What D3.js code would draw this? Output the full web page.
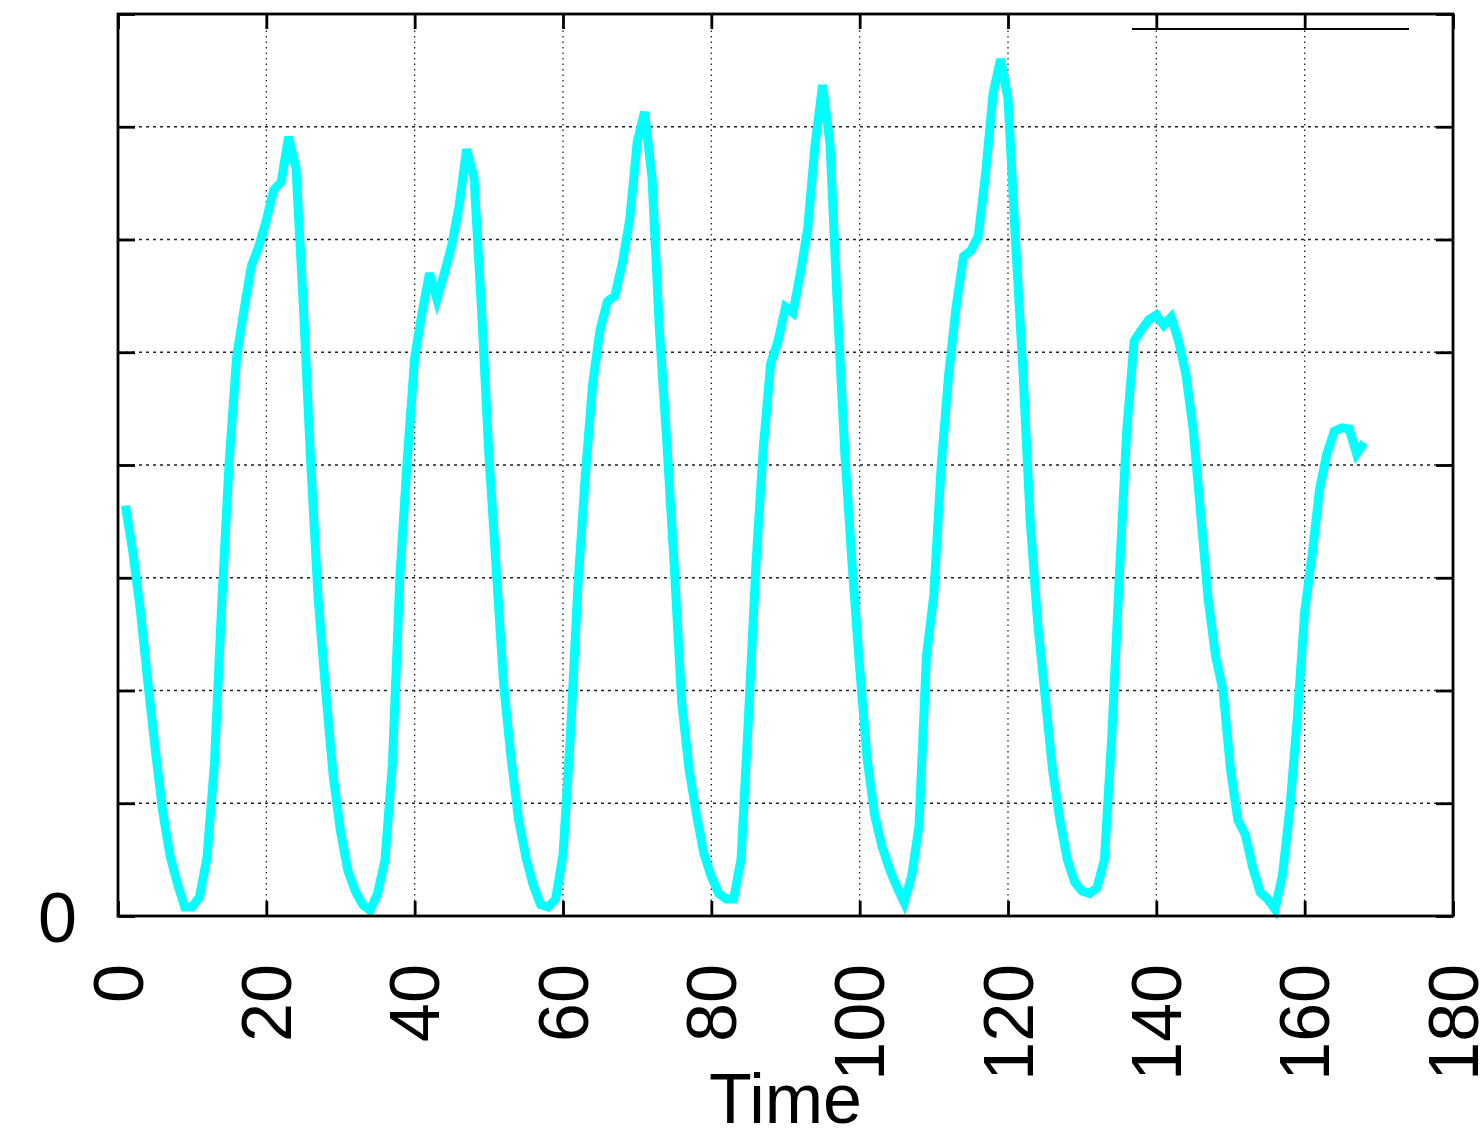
<!DOCTYPE html>
<html>
<head>
<meta charset="utf-8">
<script src="https://cdn.jsdelivr.net/npm/d3@7"></script>
<style>
  html, body { margin: 0; padding: 0; background: #fff; }
  svg { display: block; }
  text { font-family: "Liberation Sans", Arial, Helvetica, sans-serif; fill: #000; }
</style>
</head>
<body>
<svg id="chart" width="1481" height="1134"></svg>
<script>
// ---- data (hourly samples, t = 1 .. 168) ----
const seriesValues = [
  3.64, 3.23, 2.72, 2.09, 1.49, 0.94, 0.54, 0.29, 0.08, 0.08, 0.17, 0.52,
  1.35, 2.79, 4.04, 4.96, 5.38, 5.77, 5.94, 6.17, 6.44, 6.51, 6.91, 6.63,
  5.40, 4.00, 2.80, 2.00, 1.25, 0.75, 0.40, 0.22, 0.10, 0.05, 0.20, 0.50,
  1.35, 3.00, 4.05, 4.95, 5.35, 5.70, 5.47, 5.70, 5.95, 6.30, 6.80, 6.55,
  5.40, 4.10, 3.07, 2.05, 1.40, 0.86, 0.52, 0.27, 0.10, 0.08, 0.15, 0.54,
  1.60, 2.92, 3.90, 4.72, 5.20, 5.45, 5.50, 5.79, 6.18, 6.86, 7.13, 6.55,
  5.20, 4.20, 3.10, 1.90, 1.30, 0.90, 0.55, 0.35, 0.20, 0.15, 0.15, 0.50,
  1.75, 3.10, 4.15, 4.90, 5.10, 5.40, 5.35, 5.70, 6.10, 6.85, 7.37, 6.85,
  5.40, 4.10, 3.10, 2.20, 1.40, 0.90, 0.62, 0.42, 0.26, 0.12, 0.35, 0.80,
  2.30, 2.85, 4.00, 4.80, 5.40, 5.85, 5.90, 6.03, 6.60, 7.30, 7.60, 7.25,
  6.00, 4.85, 3.50, 2.60, 1.95, 1.30, 0.85, 0.50, 0.30, 0.22, 0.20, 0.25,
  0.50, 1.60, 3.00, 4.30, 5.10, 5.20, 5.29, 5.33, 5.24, 5.31, 5.10, 4.80,
  4.30, 3.55, 2.80, 2.30, 2.00, 1.30, 0.85, 0.72, 0.43, 0.21, 0.15, 0.06,
  0.36, 0.95, 1.75, 2.70, 3.20, 3.78, 4.10, 4.30, 4.33, 4.32, 4.10, 4.20
];
const xTicks = [0, 20, 40, 60, 80, 100, 120, 140, 160, 180];
const xTickLabels = ["0", "20", "40", "60", "80", "100", "120", "140", "160", "180"];
const yTicks = [0, 1, 2, 3, 4, 5, 6, 7, 8];
const yTickLabels = ["0", "", "", "", "", "", "", "", ""];
const xTitle = "Time";
const xDomain = [0, 180];
const yDomain = [0, 8];

// ---- layout ----
const plot = { left: 118, right: 1453, top: 14, bottom: 916 };
const svg = d3.select("#chart");

const x = d3.scaleLinear().domain(xDomain).range([plot.left, plot.right]);
const y = d3.scaleLinear().domain(yDomain).range([plot.bottom, plot.top]);

const data = seriesValues.map((v, i) => ({ t: i + 1, v }));

// ---- grid ----
const grid = svg.append("g").attr("class", "grid");
grid.selectAll("line.vx")
  .data(xTicks.filter(d => d > xDomain[0] && d < xDomain[1]))
  .join("line")
  .attr("x1", d => x(d)).attr("x2", d => x(d))
  .attr("y1", plot.top).attr("y2", plot.bottom)
  .attr("stroke", "#222").attr("stroke-width", 1.3)
  .attr("stroke-dasharray", "1.5,4");
grid.selectAll("line.hy")
  .data(yTicks.filter(d => d > yDomain[0] && d < yDomain[1]))
  .join("line")
  .attr("x1", plot.left).attr("x2", plot.right)
  .attr("y1", d => y(d)).attr("y2", d => y(d))
  .attr("stroke", "#222").attr("stroke-width", 1.3)
  .attr("stroke-dasharray", "3,4");

// ---- axes ----
const fmtX = d => xTickLabels[xTicks.indexOf(d)];
const fmtY = d => yTickLabels[yTicks.indexOf(d)];

const gB = svg.append("g").attr("transform", `translate(0,${plot.bottom})`)
  .call(d3.axisBottom(x).tickValues(xTicks).tickFormat(fmtX).tickSize(-15).tickSizeOuter(0));
gB.selectAll(".tick text")
  .attr("x", 0).attr("y", 0).attr("dy", null)
  .attr("text-anchor", "end")
  .attr("transform", "translate(24,48) rotate(-90)")
  .style("font-size", "70px");

const gT = svg.append("g").attr("transform", `translate(0,${plot.top})`)
  .call(d3.axisTop(x).tickValues(xTicks).tickFormat("").tickSize(-15).tickSizeOuter(0));

const gL = svg.append("g").attr("transform", `translate(${plot.left},0)`)
  .call(d3.axisLeft(y).tickValues(yTicks).tickFormat(fmtY).tickSize(-17).tickSizeOuter(0).tickPadding(41));
gL.selectAll(".tick text").attr("dy", "0.36em").style("font-size", "70px");

const gR = svg.append("g").attr("transform", `translate(${plot.right},0)`)
  .call(d3.axisRight(y).tickValues(yTicks).tickFormat("").tickSize(-17).tickSizeOuter(0));

[gB, gT, gL, gR].forEach(g => {
  g.select(".domain").remove();
  g.selectAll(".tick line").attr("stroke", "#000").attr("stroke-width", 2.8);
  g.attr("font-family", null).attr("font-size", null);
});

// ---- series line ----
svg.append("path")
  .datum(data)
  .attr("fill", "none")
  .attr("stroke", "#00ffff")
  .attr("stroke-width", 9)
  .attr("stroke-linejoin", "miter")
  .attr("d", d3.line().x(d => x(d.t)).y(d => y(d.v)));

// ---- border ----
svg.append("rect")
  .attr("x", plot.left).attr("y", plot.top)
  .attr("width", plot.right - plot.left).attr("height", plot.bottom - plot.top)
  .attr("fill", "none").attr("stroke", "#000").attr("stroke-width", 2.8);

// ---- legend sample line (no label) ----
svg.append("line")
  .attr("x1", 1132).attr("x2", 1409).attr("y1", 29).attr("y2", 29)
  .attr("stroke", "#000").attr("stroke-width", 2);

// ---- x title ----
svg.append("text")
  .attr("x", (plot.left + plot.right) / 2)
  .attr("y", 1123)
  .attr("text-anchor", "middle")
  .style("font-size", "70px")
  .text(xTitle);
</script>
</body>
</html>
